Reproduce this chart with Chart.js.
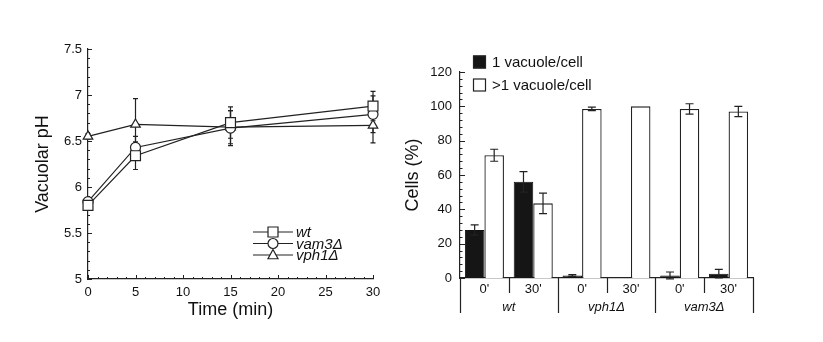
<!DOCTYPE html>
<html>
  <head>
    <meta charset="utf-8">
    <title>Vacuolar pH and vacuole number</title>
    <script src="https://cdn.jsdelivr.net/npm/chart.js"></script>
    <style>
      body { margin: 0; background: #fff; }
      #wrap { position: relative; width: 823px; height: 342px; }
      canvas { position: absolute; top: 0; }
      #phChart { left: 0; }
      #vacChart { left: 400px; }
    </style>
  </head>
  <body>
    <div id="wrap">
      <canvas id="phChart" width="400" height="342"></canvas>
      <canvas id="vacChart" width="423" height="342"></canvas>
    </div>
    <script>
// left panel: vacuolar pH over time
const times = [0, 5, 15, 30];
const phWt = [5.80, 6.34, 6.70, 6.88];
const phWtErr = [0.04, 0.15, 0.17, 0.16];
const phVam3 = [5.84, 6.43, 6.64, 6.79];
const phVam3Err = [0.04, 0.12, 0.19, 0.2];
const phVph1 = [6.55, 6.68, 6.65, 6.67];
const phVph1Err = [0.03, 0.28, 0.18, 0.19];

// right panel: % cells by vacuole number
const strains = ['wt', 'vph1Δ', 'vam3Δ'];
const timepoints = ["0'", "30'", "0'", "30'", "0'", "30'"];
const oneVac = [28, 56, 1.5, 0, 1.5, 2.5];
const oneVacErr = [3, 6, 0.5, 0, 2, 2.5];
const multiVac = [71.5, 43.5, 98.5, 100, 98.5, 97];
const multiVacErr = [3.5, 6, 1, 0, 3, 3];

Chart.defaults.font.family = "'Liberation Sans', Arial, sans-serif";
Chart.defaults.color = '#111';
const INK = '#222';

function drawMarker(ctx, style, x, y, r) {
  ctx.beginPath();
  if (style === 'rect') {
    ctx.rect(x - r, y - r, 2 * r, 2 * r);
  } else if (style === 'triangle') {
    ctx.moveTo(x, y - r * 1.1);
    ctx.lineTo(x + r, y + r * 0.75);
    ctx.lineTo(x - r, y + r * 0.75);
    ctx.closePath();
  } else {
    ctx.arc(x, y, r, 0, Math.PI * 2);
  }
  ctx.fillStyle = '#fff';
  ctx.fill();
  ctx.stroke();
}

function drawErrors(chart, opts) {
  const ctx = chart.ctx;
  const ys = chart.scales.y;
  ctx.save();
  ctx.strokeStyle = INK;
  ctx.lineWidth = opts.width || 1.2;
  chart.data.datasets.forEach((ds, di) => {
    if (!ds.errors) return;
    chart.getDatasetMeta(di).data.forEach((el, i) => {
      const err = ds.errors[i];
      if (!err) return;
      const raw = ds.data[i];
      const v = typeof raw === 'object' ? raw.y : raw;
      const top = ys.getPixelForValue(v + err);
      const bot = ys.getPixelForValue(v - err);
      const c = opts.cap;
      ctx.beginPath();
      ctx.moveTo(el.x, top); ctx.lineTo(el.x, bot);
      ctx.moveTo(el.x - c, top); ctx.lineTo(el.x + c, top);
      ctx.moveTo(el.x - c, bot); ctx.lineTo(el.x + c, bot);
      ctx.stroke();
    });
  });
  ctx.restore();
}

const errorBars = {
  id: 'errorBars',
  beforeDatasetsDraw(chart, args, opts) { if (opts.under) drawErrors(chart, opts); },
  afterDatasetsDraw(chart, args, opts) { if (!opts.under) drawErrors(chart, opts); }
};

// inward major + minor ticks, drawn before the data so markers sit on top
const axisTicks = {
  id: 'axisTicks',
  beforeDatasetsDraw(chart, args, opts) {
    const ctx = chart.ctx;
    const {x, y} = chart.scales;
    const left = chart.chartArea.left, bottom = chart.chartArea.bottom;
    ctx.save();
    ctx.strokeStyle = INK;
    ctx.lineWidth = 1;
    ctx.beginPath();
    const nY = Math.round((y.max - y.min) / opts.yStep);
    for (let k = 0; k <= nY; k++) {
      const v = y.min + k * opts.yStep;
      const major = Math.abs(v / opts.yMajor - Math.round(v / opts.yMajor)) < 1e-6;
      const py = Math.round(y.getPixelForValue(v)) + 0.5;
      ctx.moveTo(left, py); ctx.lineTo(left + (major ? opts.major : opts.minor), py);
    }
    if (opts.xStep) {
      const nX = Math.round((x.max - x.min) / opts.xStep);
      for (let k = 0; k <= nX; k++) {
        const v = x.min + k * opts.xStep;
        const major = Math.abs(v / opts.xMajor - Math.round(v / opts.xMajor)) < 1e-6;
        const px = Math.round(x.getPixelForValue(v)) + 0.5;
        ctx.moveTo(px, bottom); ctx.lineTo(px, bottom - (major ? opts.major : opts.minor));
      }
    }
    ctx.stroke();
    ctx.restore();
  }
};

const lineLegend = {
  id: 'lineLegend',
  afterDraw(chart, args, opts) {
    const ctx = chart.ctx;
    ctx.save();
    chart.data.datasets.forEach((ds, i) => {
      const y = opts.y + i * opts.gap;
      ctx.strokeStyle = INK;
      ctx.lineWidth = 1.2;
      ctx.beginPath();
      ctx.moveTo(opts.x, y); ctx.lineTo(opts.x + opts.len, y);
      ctx.stroke();
      drawMarker(ctx, ds.pointStyle, opts.x + opts.len / 2, y, ds.legendR);
      ctx.fillStyle = '#111';
      ctx.font = 'italic 15px ' + Chart.defaults.font.family;
      ctx.textBaseline = 'middle';
      ctx.fillText(ds.label, opts.x + opts.len + 3, y + 1);
    });
    ctx.restore();
  }
};

const boxLegend = {
  id: 'boxLegend',
  afterDraw(chart, args, opts) {
    const ctx = chart.ctx;
    ctx.save();
    chart.data.datasets.forEach((ds, i) => {
      const y = opts.y + i * opts.gap;
      const s = opts.size;
      ctx.fillStyle = ds.backgroundColor;
      ctx.strokeStyle = INK;
      ctx.lineWidth = 1.2;
      ctx.fillRect(opts.x, y - s / 2, s, s);
      ctx.strokeRect(opts.x + 0.5, y - s / 2 + 0.5, s - 1, s - 1);
      ctx.fillStyle = '#111';
      ctx.font = '15px ' + Chart.defaults.font.family;
      ctx.textBaseline = 'middle';
      ctx.fillText(ds.label, opts.x + s + 6, y + 1);
    });
    ctx.restore();
  }
};

// vertical separators under the bar panel's x axis
const dividers = {
  id: 'dividers',
  afterDraw(chart, args, opts) {
    const ctx = chart.ctx;
    const x = chart.scales.x;
    const n = chart.data.labels.length;
    ctx.save();
    ctx.strokeStyle = INK;
    ctx.lineWidth = 1.2;
    ctx.beginPath();
    for (let i = 0; i <= n; i++) {
      const px = Math.round(x.getPixelForValue(i - 0.5)) + 0.5;
      const len = i % 2 === 0 ? opts.long : opts.short;
      ctx.moveTo(px, x.top); ctx.lineTo(px, x.top + len);
    }
    ctx.stroke();
    ctx.restore();
  }
};

function mkSeries(label, vals, errs, style, r, lr) {
  return {
    label: label,
    data: times.map((t, i) => ({x: t, y: vals[i]})),
    errors: errs,
    borderColor: INK,
    borderWidth: 1.2,
    pointStyle: style,
    pointRadius: r,
    pointBackgroundColor: '#fff',
    pointBorderColor: INK,
    pointBorderWidth: 1.2,
    legendR: lr,
    clip: false,
    tension: 0
  };
}

new Chart(document.getElementById('phChart'), {
  type: 'line',
  data: {
    datasets: [
      mkSeries('wt', phWt, phWtErr, 'rect', 7, 5),
      mkSeries('vam3Δ', phVam3, phVam3Err, 'circle', 5, 5),
      mkSeries('vph1Δ', phVph1, phVph1Err, 'triangle', 5.5, 5)
    ]
  },
  options: {
    responsive: false,
    animation: false,
    layout: { padding: { left: 30, right: 27, top: 49, bottom: 17 } },
    plugins: {
      legend: { display: false },
      tooltip: { enabled: false },
      errorBars: { under: true, cap: 2.5 },
      axisTicks: { yStep: 0.1, yMajor: 0.5, xStep: 1, xMajor: 5, major: 4, minor: 2 },
      lineLegend: { x: 253, y: 232, gap: 11.5, len: 40 }
    },
    scales: {
      x: {
        type: 'linear', min: 0, max: 30,
        ticks: { stepSize: 5, font: { size: 13 }, padding: 6 },
        grid: { display: false, drawTicks: false },
        border: { color: INK, width: 1.2 },
        title: { display: true, text: 'Time (min)', font: { size: 18 }, padding: { top: 0, bottom: 4 } },
        afterFit: s => { s.height = 46; }
      },
      y: {
        min: 5, max: 7.5,
        ticks: { stepSize: 0.5, font: { size: 13 }, padding: 6, callback: v => String(v) },
        grid: { display: false, drawTicks: false },
        border: { color: INK, width: 1.2 },
        title: { display: true, text: 'Vacuolar pH', font: { size: 18 }, padding: { top: 2, bottom: 0 } },
        afterFit: s => { s.width = 58; }
      }
    }
  },
  plugins: [axisTicks, errorBars, lineLegend]
});

new Chart(document.getElementById('vacChart'), {
  type: 'bar',
  data: {
    labels: timepoints,
    datasets: [
      { label: '1 vacuole/cell', data: oneVac, errors: oneVacErr,
        backgroundColor: '#151515', borderColor: '#111', borderWidth: 1 },
      { label: '>1 vacuole/cell', data: multiVac, errors: multiVacErr,
        backgroundColor: '#ffffff', borderColor: INK, borderWidth: 1.3 }
    ]
  },
  options: {
    responsive: false,
    animation: false,
    datasets: { bar: { categoryPercentage: 0.8, barPercentage: 1 } },
    layout: { padding: { left: 0, right: 70, top: 72, bottom: 24 } },
    plugins: {
      legend: { display: false },
      tooltip: { enabled: false },
      axisTicks: { yStep: 4, yMajor: 20, major: 5, minor: 2.5 },
      errorBars: { under: false, cap: 4 },
      boxLegend: { x: 73, y: 62, gap: 23, size: 13 },
      dividers: { short: 15, long: 35 }
    },
    scales: {
      x: {
        offset: true,
        grid: { display: false, drawTicks: false },
        border: { color: INK, width: 1.2 },
        ticks: { padding: 4, font: { size: 13 } },
        afterFit: s => { s.height = 20; }
      },
      groups: {
        type: 'category', labels: strains, position: 'bottom', offset: true, weight: 1,
        grid: { display: false, drawTicks: false },
        border: { display: false },
        ticks: { padding: 2, font: { size: 13, style: 'italic' } },
        afterFit: s => { s.height = 20; }
      },
      y: {
        min: 0, max: 120,
        ticks: { stepSize: 20, font: { size: 13 }, padding: 8 },
        grid: { display: false, drawTicks: false },
        border: { color: INK, width: 1.2 },
        title: { display: true, text: 'Cells (%)', font: { size: 18 }, padding: { top: 2, bottom: 0 } },
        afterFit: s => { s.width = 60; }
      }
    }
  },
  plugins: [axisTicks, errorBars, boxLegend, dividers]
});
    </script>
  </body>
</html>
